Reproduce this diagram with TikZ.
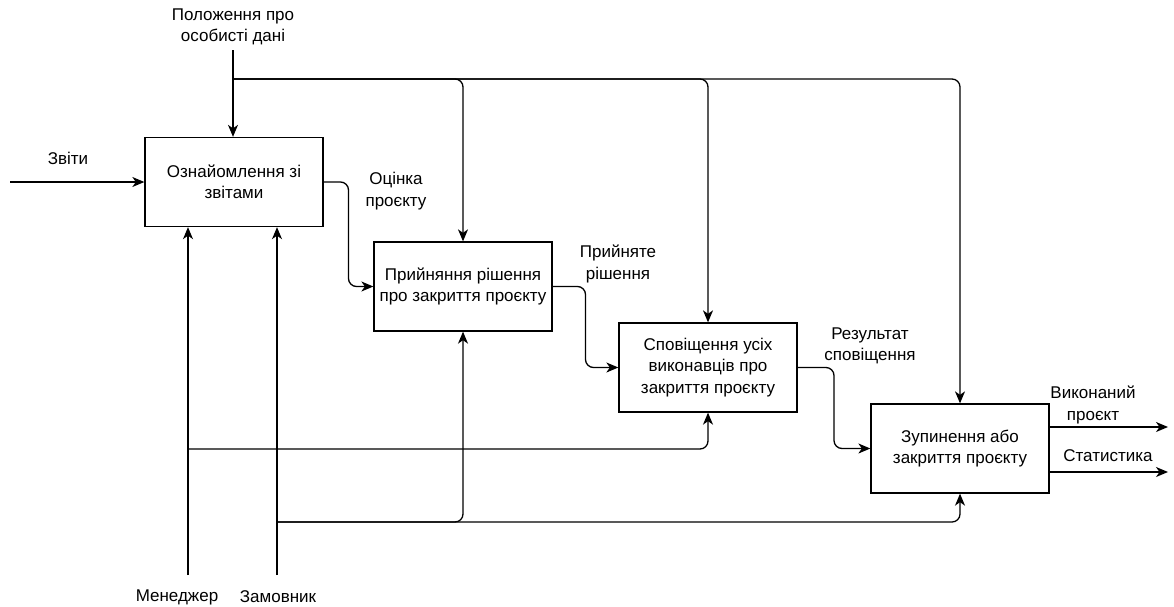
\documentclass[tikz,border=0pt]{standalone}
\usepackage{fontspec}
\setmainfont{Liberation Sans}
\usetikzlibrary{arrows.meta,calc}

\begin{document}
\begin{tikzpicture}[x=1pt,y=-1pt,
  every node/.style={font=\fontsize{17}{21.5}\selectfont},
  box/.style={draw, line width=1.3pt, minimum width=178pt, minimum height=89pt,
              inner sep=0pt, align=center},
  lbl/.style={align=center, inner sep=0pt},
  arr/.style={line width=1.3pt, -{Stealth[length=12pt,width=10pt,inset=3.5pt]}},
  flow/.style={arr, rounded corners=8pt}]
\useasboundingbox (0,0) rectangle (1174,606);

% activity boxes
\node[box] (b1) at (234,182)   {Ознайомлення зі\\звітами};
\node[box] (b2) at (463,286.5) {Прийняння рішення\\про закриття проєкту};
\node[box] (b3) at (708,367.5) {Сповіщення усіх\\виконавців про\\закриття проєкту};
\node[box] (b4) at (960,448.5) {Зупинення або\\закриття проєкту};

% arrow labels
\node[lbl] (lpol) at (233,27)  {Положення про\\особисті дані};
\node[lbl] (lzv)  at (68,158)  {Звіти};
\node[lbl] (lo1)  at (396,191) {Оцінка\\проєкту};
\node[lbl] (lo2)  at (618,264) {Прийняте\\рішення};
\node[lbl] (lo3)  at (870,346) {Результат\\сповіщення};
\node[lbl] (lo4)  at (1093,405) {Виконаний\\проєкт};
\node[lbl] (lo5)  at (1108,456) {Статистика};
\node[lbl] (lm)   at (177,597) {Менеджер};
\node[lbl] (lz)   at (278,597) {Замовник};

% free ends and junctions
\coordinate (ctl)  at (233,50);
\coordinate (ctlj) at (233,79);
\coordinate (inp)  at (10,182);
\coordinate (msrc) at (188,575);
\coordinate (mj)   at (188,449);
\coordinate (zsrc) at (277,575);
\coordinate (zj)   at (277,522);
\coordinate (out1) at (1168,427);
\coordinate (out2) at (1168,472);

% control: regulations on personal data
\draw[arr]  (ctl) -- (ctl |- b1.north);
\draw[flow] (ctlj) -| (b2.north);
\draw[flow] (ctlj) -| (b3.north);
\draw[flow] (ctlj) -| (b4.north);

% input
\draw[arr] (inp) -- (b1.west);

% flow between activities
\draw[flow] (b1.east) -| ($(b1.east)!0.5!(b2.west)$) |- (b2.west);
\draw[flow] (b2.east) -| ($(b2.east)!0.5!(b3.west)$) |- (b3.west);
\draw[flow] (b3.east) -| ($(b3.east)!0.5!(b4.west)$) |- (b4.west);

% outputs
\draw[arr] (b4.east |- out1) -- (out1);
\draw[arr] (b4.east |- out2) -- (out2);

% mechanisms: manager and customer
\draw[arr]  (msrc) -- (msrc |- b1.south);
\draw[flow] (mj) -| (b3.south);
\draw[arr]  (zsrc) -- (zsrc |- b1.south);
\draw[flow] (zj) -| (b2.south);
\draw[flow] (zj) -| (b4.south);
\end{tikzpicture}
\end{document}
